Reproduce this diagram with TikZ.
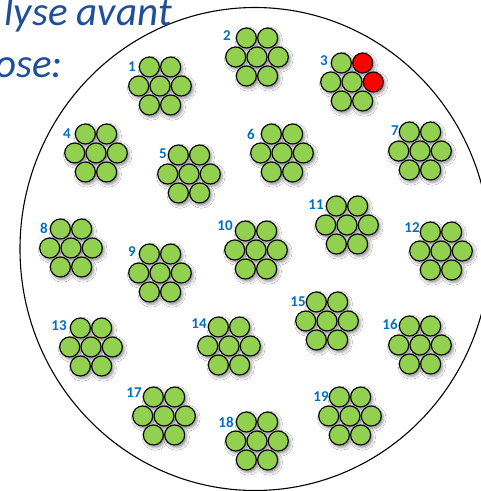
\documentclass[tikz,border=0pt]{standalone}
\usepackage{fontspec}
\setmainfont{Carlito}
\usetikzlibrary{shadows.blur}
\definecolor{ballgreen}{HTML}{92D050}
\definecolor{ballred}{HTML}{FF0000}
\definecolor{labelblue}{HTML}{0070C0}
\definecolor{titleblue}{HTML}{1F4E9A}
\tikzset{
  ball/.style={circle, draw=black, line width=1.1pt, minimum size=20pt, inner sep=0pt, fill=ballgreen},
  ballshadow/.style={blur shadow={shadow xshift=1.8pt, shadow yshift=-2.2pt, shadow blur radius=2.5pt, shadow opacity=40}},
  num/.style={font=\bfseries\fontsize{15}{15}\selectfont, text=labelblue, inner sep=0pt},
  titletext/.style={font=\itshape\fontsize{41}{41}\selectfont, text=titleblue, inner sep=0pt},
  outline/.style={draw=black, line width=1.1pt},
}
\newcommand\ballcluster[5]{%
  \begin{scope}[shift={(#2,#3)}]
    \foreach \dx/\dy in {-10.65/-19,10.65/-19,-21.3/0,0/0,21.3/0,-10.65/19,10.65/19}
      \path[ballshadow] (\dx,\dy) circle[radius=10.5pt];
    \foreach \dx/\dy/\col [count=\i] in {-10.65/-19/ballgreen,10.65/-19/#4,-21.3/0/ballgreen,0/0/ballgreen,21.3/0/#5,-10.65/19/ballgreen,10.65/19/ballgreen}
      \node[ball, fill=\col] (b#1-\i) at (\dx,\dy) {};
  \end{scope}}
\begin{document}
\begin{tikzpicture}[x=1pt,y=-1pt]
\useasboundingbox (0,0) rectangle (481,491);
\clip (0,0) rectangle (481,491);
\fill[white] (0,0) rectangle (481,491);
% big outline
\draw[outline] (255,249) ellipse[x radius=235pt, y radius=241.5pt];
% title fragments
\node[titletext, anchor=base east] (t1) at (172,25) {lyse avant};
\node[titletext, anchor=base east] (t2) at (63,77) {ose:};
% clusters
\ballcluster{1}{160}{86}{ballgreen}{ballgreen}
\ballcluster{2}{257}{57}{ballgreen}{ballgreen}
\ballcluster{3}{352}{82}{ballred}{ballred}
\ballcluster{4}{96}{153}{ballgreen}{ballgreen}
\ballcluster{5}{189}{174}{ballgreen}{ballgreen}
\ballcluster{6}{282}{153}{ballgreen}{ballgreen}
\ballcluster{7}{420}{151}{ballgreen}{ballgreen}
\ballcluster{8}{71}{248}{ballgreen}{ballgreen}
\ballcluster{9}{160}{273}{ballgreen}{ballgreen}
\ballcluster{10}{256}{250}{ballgreen}{ballgreen}
\ballcluster{11}{347}{225}{ballgreen}{ballgreen}
\ballcluster{12}{441}{251}{ballgreen}{ballgreen}
\ballcluster{13}{91}{347}{ballgreen}{ballgreen}
\ballcluster{14}{229}{346}{ballgreen}{ballgreen}
\ballcluster{15}{327}{321}{ballgreen}{ballgreen}
\ballcluster{16}{420}{345}{ballgreen}{ballgreen}
\ballcluster{17}{164}{416}{ballgreen}{ballgreen}
\ballcluster{18}{257}{441}{ballgreen}{ballgreen}
\ballcluster{19}{350}{416}{ballgreen}{ballgreen}
% labels
\node[num] (l1) at (132,67) {1};
\node[num] (l2) at (227,36) {2};
\node[num] (l3) at (324,61) {3};
\node[num] (l4) at (67,134) {4};
\node[num] (l5) at (163,154) {5};
\node[num] (l6) at (251,134) {6};
\node[num] (l7) at (395,131) {7};
\node[num] (l8) at (44,228) {8};
\node[num] (l9) at (132,252) {9};
\node[num] (l10) at (225,226) {10};
\node[num] (l11) at (316,205) {11};
\node[num] (l12) at (412,228) {12};
\node[num] (l13) at (59,326) {13};
\node[num] (l14) at (199,324) {14};
\node[num] (l15) at (298,302) {15};
\node[num] (l16) at (390,324) {16};
\node[num] (l17) at (134,393) {17};
\node[num] (l18) at (226,422) {18};
\node[num] (l19) at (321,397) {19};
\end{tikzpicture}
\end{document}
